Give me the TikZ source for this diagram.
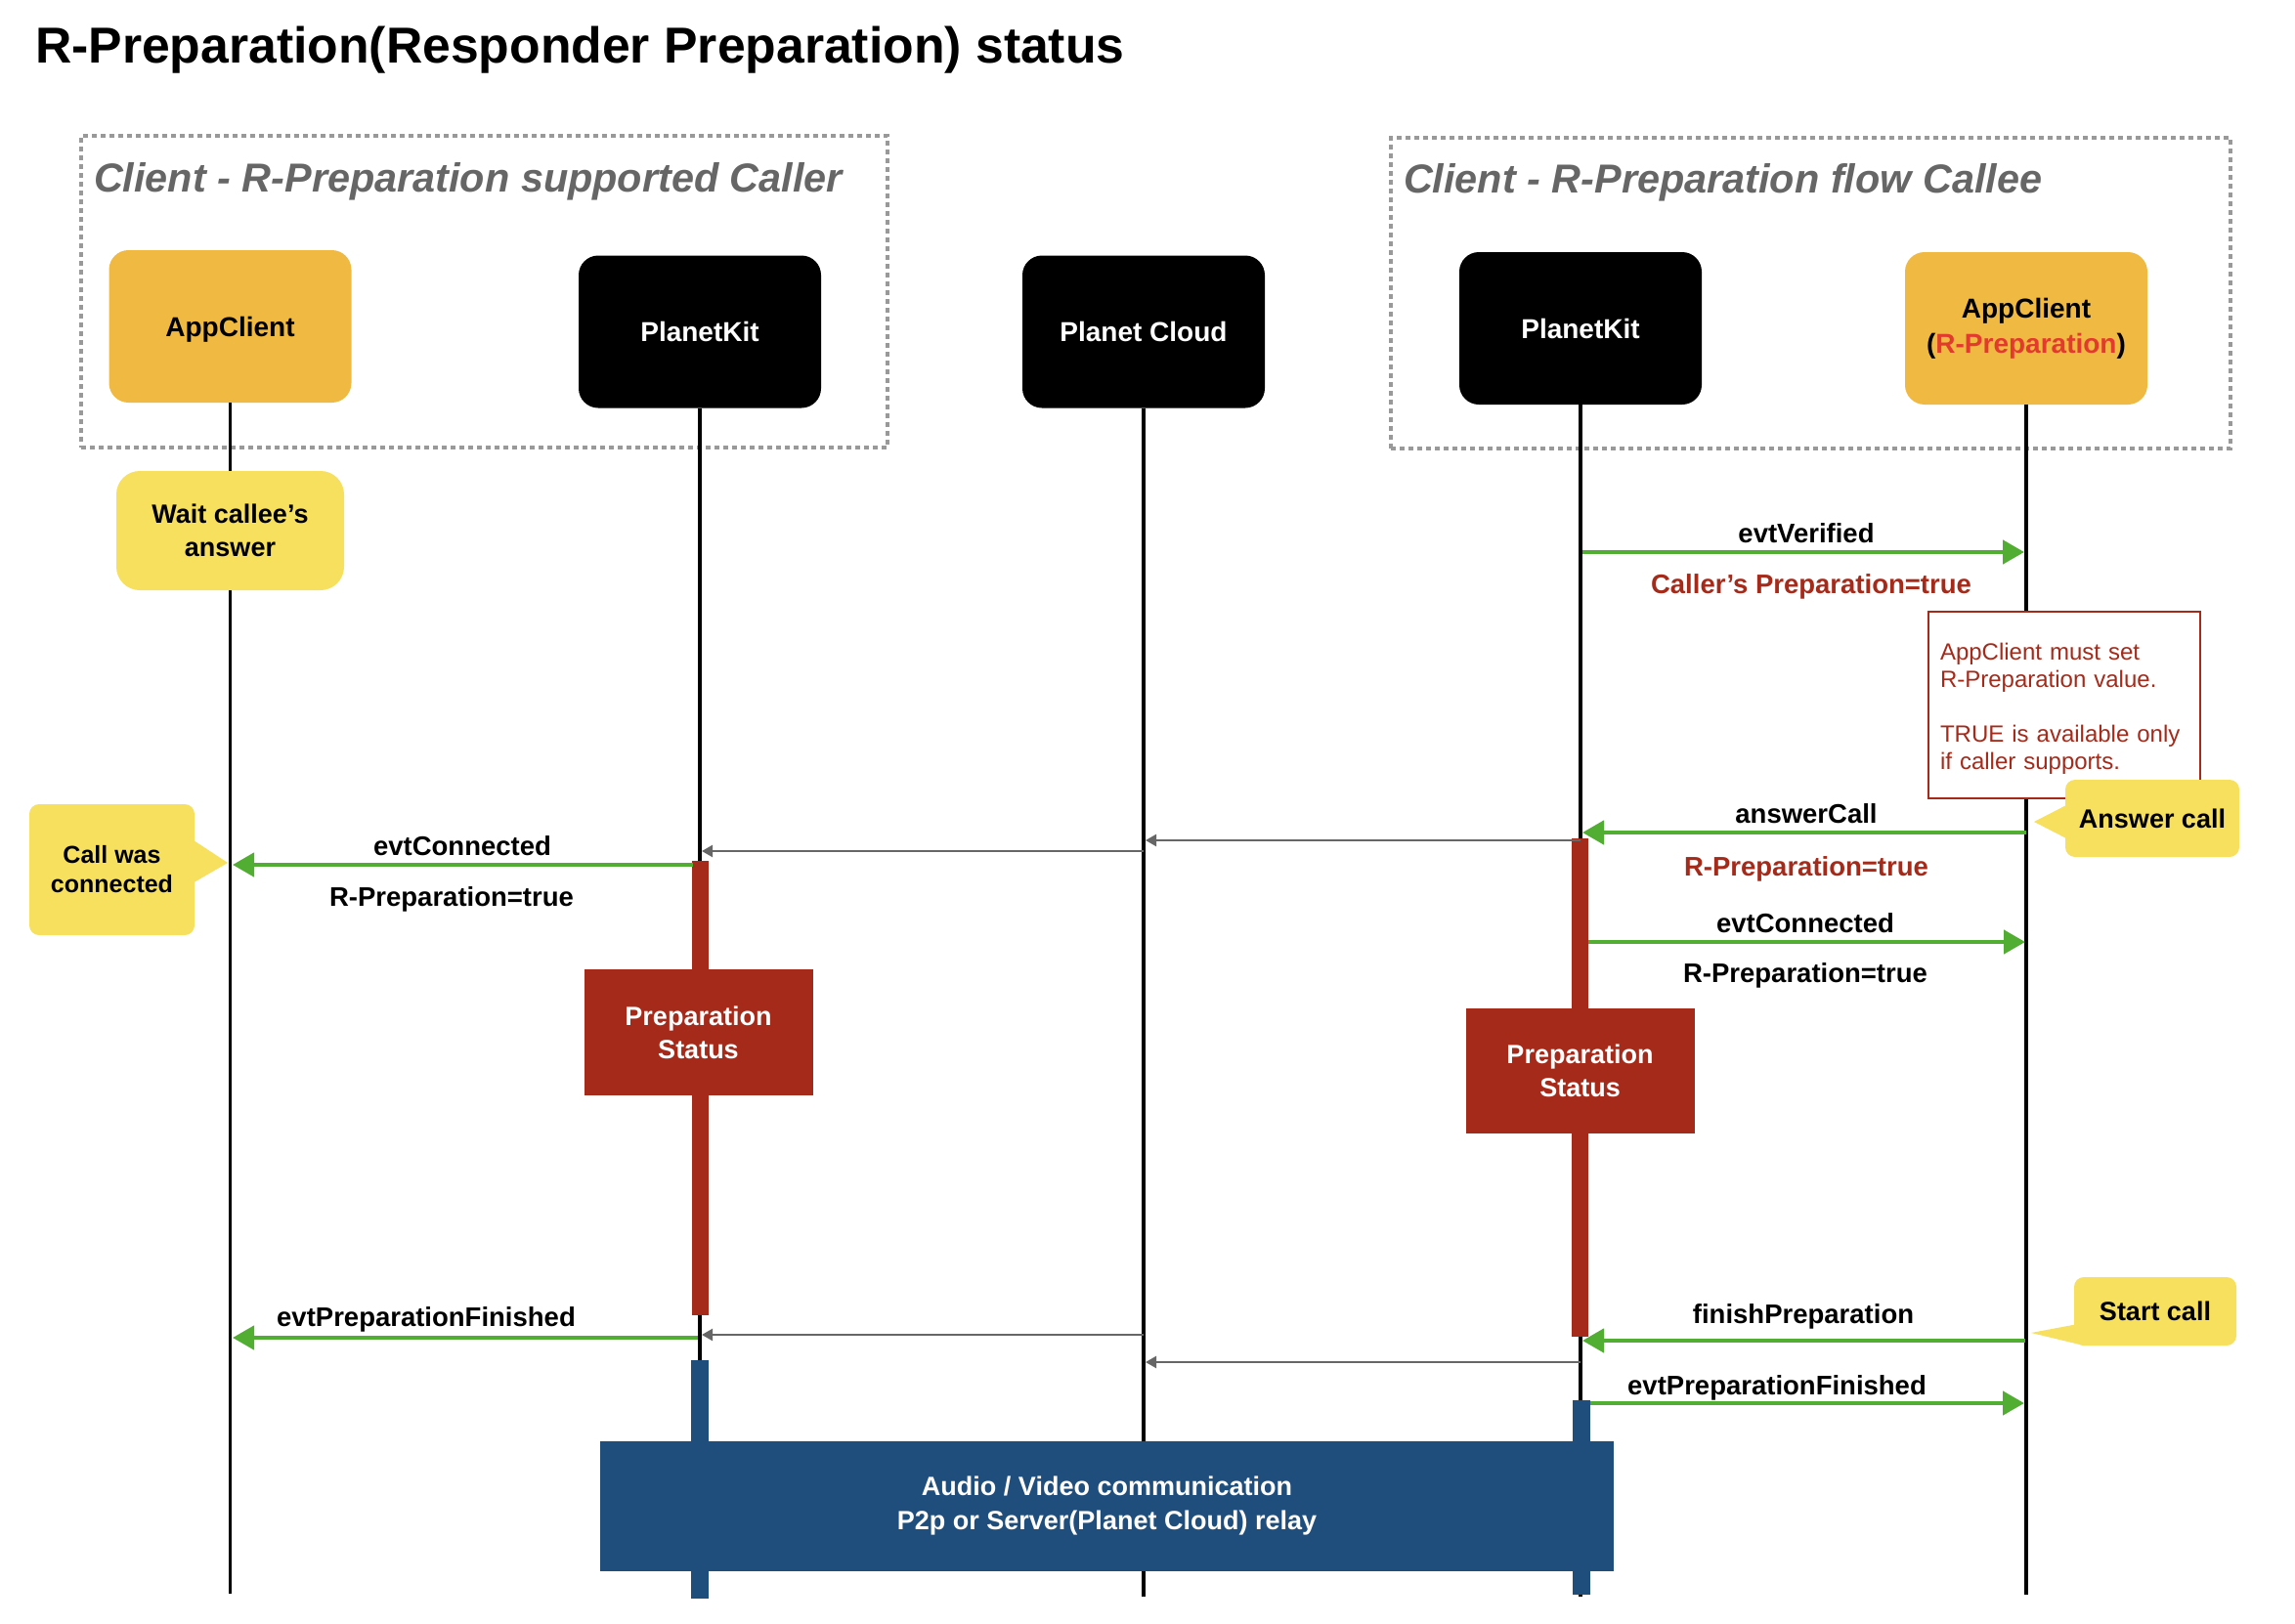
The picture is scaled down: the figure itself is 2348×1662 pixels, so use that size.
\documentclass[tikz,border=0pt]{standalone}
\usepackage{fontspec}
\setmainfont{Liberation Sans}
\usetikzlibrary{arrows.meta}
\definecolor{appc}{HTML}{F0B942}
\definecolor{callout}{HTML}{F6E05E}
\definecolor{prep}{HTML}{A52A1A}
\definecolor{rprep}{HTML}{E23B2E}
\definecolor{msg}{HTML}{52AE32}
\definecolor{comm}{HTML}{1F4E7C}
\definecolor{relay}{HTML}{666666}
\definecolor{grp}{HTML}{999999}
\definecolor{grptext}{HTML}{666666}
\newcommand\fsz[2]{\fontsize{#1}{#2}\selectfont}
\begin{document}
\begin{tikzpicture}[x=1pt,y=-1pt,
  every node/.style={inner sep=0pt,outer sep=0pt},
  head/.style={rounded corners=20pt,minimum width=248pt,minimum height=156pt,font=\fsz{28}{36}\bfseries,align=center},
  grpbox/.style={draw=grp,line width=3.5pt,dash pattern=on 5pt off 4pt},
  grplabel/.style={font=\fsz{41.4}{48}\bfseries\itshape,text=grptext},
  lifeline/.style={draw=black,line width=3.5pt},
  statusbox/.style={fill=prep,text=white,minimum width=234pt,minimum height=129pt,font=\fsz{27}{34}\bfseries,align=center},
  callbox/.style={fill=callout,rounded corners=10pt,font=\fsz{27}{34}\bfseries,align=center},
  msgarr/.style={draw=msg,line width=4.5pt,-{Triangle[length=22pt,width=24pt]}},
  relayarr/.style={draw=relay,line width=2.2pt,-{Triangle[length=11pt,width=12pt]}},
  lbl/.style={anchor=base,font=\fsz{27.5}{32}\bfseries},
  redlbl/.style={lbl,text=prep},
]
\useasboundingbox (0,0) rectangle (2348,1662);
\fill[white] (0,0) rectangle (2348,1662);

% title
\node[anchor=base west,font=\fsz{51.7}{60}\bfseries] (title) at (36,65) {R-Preparation(Responder Preparation) status};

% groups
\node[grpbox,minimum width=825pt,minimum height=319pt] (gL) at (495.5,298.5) {};
\node[grpbox,minimum width=859pt,minimum height=318pt] (gR) at (1852.5,300) {};
\node[grplabel,anchor=base west] (gLt) at (96,196) {Client - R-Preparation supported Caller};
\node[grplabel,anchor=base west] (gRt) at (1436,197) {Client - R-Preparation flow Callee};

% participants
\node[head,fill=appc,text depth=0pt] (appL) at (235.5,334) {AppClient};
\node[head,fill=black,text=white] (pkL) at (716,339.5) {PlanetKit};
\node[head,fill=black,text=white] (cloud) at (1170,339.5) {Planet Cloud};
\node[head,fill=black,text=white] (pkR) at (1617,336) {PlanetKit};
\node[head,fill=appc] (appR) at (2073,336) {AppClient\\(\textcolor{rprep}{R-Preparation})};

% lifelines
\coordinate (appLend) at (235.5,1631);
\coordinate (pkLend) at (716,1636);
\coordinate (cloudend) at (1170,1634);
\coordinate (pkRend) at (1617,1634);
\coordinate (appRend) at (2073,1632);
\draw[lifeline] (appL.south) -- (appLend);
\draw[lifeline] (pkL.south) -- (pkLend);
\draw[lifeline] (cloud.south) -- (cloudend);
\draw[lifeline] (pkR.south) -- (pkRend);
\draw[lifeline] (appR.south) -- (appRend);

% activation bars
\fill[prep] (708,881) rectangle (725,1346);
\fill[prep] (1608,858) rectangle (1625,1368);
\fill[comm] (707,1392) rectangle (725,1636);
\fill[comm] (1609,1433) rectangle (1627,1632);

% status boxes
\node[statusbox] (stL) at (714.5,1056.5) {Preparation\\Status};
\node[statusbox,minimum height=128pt] (stR) at (1616.5,1096) {Preparation\\Status};
\node[fill=comm,text=white,minimum width=1037pt,minimum height=133pt,font=\fsz{27}{35}\bfseries,align=center] (commbox) at (1132.5,1541.5) {Audio / Video communication\\P2p or Server(Planet Cloud) relay};

% callouts
\node[callbox,minimum width=233pt,minimum height=122pt,rounded corners=24pt] (wait) at (235.5,543) {Wait callee’s\\answer};
\node[callbox,minimum width=169pt,minimum height=134pt,font=\fsz{25}{30}\bfseries] (cwc) at (114.5,890) {Call was\\connected};
\fill[callout] (195,858) -- (233,883) -- (195,905) -- cycle;

% note
\node[draw=prep,line width=2pt,fill=white,minimum width=278pt,minimum height=191pt,text width=254pt,align=left,font=\fsz{24}{28},text=prep] (note) at (2112,721.5) {\rule{0pt}{24pt}AppClient must set\\R-Preparation value.\\[28pt]TRUE is available only\\if caller supports.};

\node[callbox,minimum width=178pt,minimum height=79pt] (ans) at (2202,837.5) {Answer call};
\fill[callout] (2116,823) -- (2081,841) -- (2116,859) -- cycle;
\node[callbox,minimum width=166pt,minimum height=70pt] (startc) at (2205,1342) {Start call};
\fill[callout] (2126,1355) -- (2078,1364) -- (2132,1377) -- cycle;

% relay (planet cloud) arrows
\coordinate (r1a) at (1617,860); \coordinate (r1b) at (1172,860);
\coordinate (r2a) at (1170,871); \coordinate (r2b) at (718,871);
\coordinate (r3a) at (1170,1366); \coordinate (r3b) at (718,1366);
\coordinate (r4a) at (1617,1394); \coordinate (r4b) at (1172,1394);
\draw[relayarr] (r1a) -- (r1b);
\draw[relayarr] (r2a) -- (r2b);
\draw[relayarr] (r3a) -- (r3b);
\draw[relayarr] (r4a) -- (r4b);

% messages
\coordinate (m1a) at (1619,565); \coordinate (m1b) at (2071,565);
\coordinate (m2a) at (2073,852); \coordinate (m2b) at (1619,852);
\coordinate (m3a) at (709,885); \coordinate (m3b) at (238,885);
\coordinate (m4a) at (1625,964); \coordinate (m4b) at (2072,964);
\coordinate (m5a) at (2072,1372); \coordinate (m5b) at (1619,1372);
\coordinate (m6a) at (714,1369); \coordinate (m6b) at (238,1369);
\coordinate (m7a) at (1627,1436); \coordinate (m7b) at (2071,1436);
\draw[msgarr] (m1a) -- (m1b);
\draw[msgarr] (m2a) -- (m2b);
\draw[msgarr] (m3a) -- (m3b);
\draw[msgarr] (m4a) -- (m4b);
\draw[msgarr] (m5a) -- (m5b);
\draw[msgarr] (m6a) -- (m6b);
\draw[msgarr] (m7a) -- (m7b);

% labels
\node[lbl] (l1) at (1848,555) {evtVerified};
\node[redlbl] (l1b) at (1853,607) {Caller’s Preparation=true};
\node[lbl] (l2) at (1848,842) {answerCall};
\node[redlbl] (l2b) at (1848,896) {R-Preparation=true};
\node[lbl] (l4) at (1847,954) {evtConnected};
\node[lbl] (l4b) at (1847,1005) {R-Preparation=true};
\node[lbl] (l3) at (473,875) {evtConnected};
\node[lbl] (l3b) at (462,927) {R-Preparation=true};
\node[lbl] (l6) at (436,1357) {evtPreparationFinished};
\node[lbl] (l5) at (1845,1354) {finishPreparation};
\node[lbl] (l7) at (1818,1427) {evtPreparationFinished};
\end{tikzpicture}
\end{document}
